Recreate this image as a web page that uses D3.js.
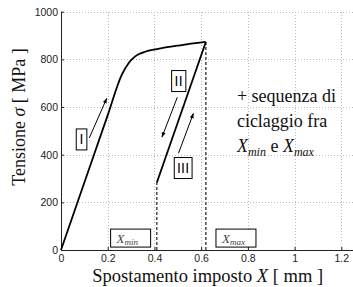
<!DOCTYPE html>
<html>
<head>
<meta charset="utf-8">
<script src="https://cdn.jsdelivr.net/npm/d3@7"></script>
<style>
  body { margin: 0; background: #fff; }
  svg { display: block; }
  .tick text { font-family: "Liberation Sans", Arial, sans-serif; font-size: 10.5px; fill: #222; }
</style>
</head>
<body>
<div id="chart"></div>
<script>
const width = 353, height = 287;
const margin = {top: 11.7, right: 0, bottom: 37, left: 61};
const serif = "'Liberation Serif', 'Times New Roman', 'DejaVu Serif', serif";

// loading curve (phase I)
const loadX = [0, 0.1, 0.2, 0.26, 0.29, 0.31, 0.33, 0.36, 0.41, 0.51, 0.62];
const loadY = [0, 283, 566, 735, 785, 806, 820, 832, 843, 859, 873];
// unloading / reloading (phases II and III)
const cycleX = [0.41, 0.62];
const cycleY = [282, 873];
// limits of the cycling
const limitNames = ["min", "max"];
const limitX = [0.41, 0.62];
const limitY = [282, 873];

const xTicks = [0, 0.2, 0.4, 0.6, 0.8, 1, 1.2];
const yTicks = [0, 200, 400, 600, 800, 1000];

let svg = d3.select("#chart").append("svg")
  .attr("width", width)
  .attr("height", height);

let x = d3.scaleLinear().domain([0, 1.25]).range([margin.left, width - margin.right]);
let y = d3.scaleLinear().domain([0, 1000]).range([height - margin.bottom, margin.top]);

// dotted grid
let grid = svg.append("g").attr("stroke", "#bbb").attr("stroke-width", 1).attr("stroke-dasharray", "1,2");
grid.selectAll(".gx").data(xTicks.slice(1)).enter().append("line")
  .attr("x1", d => Math.round(x(d)) + 0.5).attr("x2", d => Math.round(x(d)) + 0.5)
  .attr("y1", y(0)).attr("y2", y(1000));
grid.selectAll(".gy").data(yTicks.slice(1)).enter().append("line")
  .attr("y1", d => Math.round(y(d)) + 0.5).attr("y2", d => Math.round(y(d)) + 0.5)
  .attr("x1", x(0)).attr("x2", x(1.25));

// axes, MATLAB style ticks pointing inward
let xAxis = svg.append("g")
  .attr("transform", `translate(0,${y(0)})`)
  .call(d3.axisBottom(x).tickValues(xTicks).tickFormat(d3.format("~g")).tickSize(-3).tickPadding(5));
let yAxis = svg.append("g")
  .attr("transform", `translate(${x(0)},0)`)
  .call(d3.axisLeft(y).tickValues(yTicks).tickFormat(d3.format("d")).tickSize(-3).tickPadding(3));
xAxis.select(".domain").attr("d", `M${x(0)},0.5H${x(1.25)}`);
yAxis.select(".domain").attr("d", `M0.5,${y(0)}V${y(1000)}`);
svg.selectAll(".domain").attr("stroke", "#222");
svg.selectAll(".tick line").attr("stroke", "#222");

// dashed verticals at X_min and X_max
svg.selectAll(".lim").data(limitX).enter().append("line")
  .attr("x1", d => x(d)).attr("x2", d => x(d))
  .attr("y1", y(0)).attr("y2", (d, i) => y(limitY[i]))
  .attr("stroke", "#555").attr("stroke-width", 1.6).attr("stroke-dasharray", "3,2");

let line = d3.line().x(d => x(d[0])).y(d => y(d[1]));

svg.append("path")
  .datum(d3.zip(loadX, loadY))
  .attr("d", line.curve(d3.curveMonotoneX))
  .attr("fill", "none").attr("stroke", "#000").attr("stroke-width", 1.8);

svg.append("path")
  .datum(d3.zip(cycleX, cycleY))
  .attr("d", d3.line().x(d => x(d[0])).y(d => y(d[1])))
  .attr("fill", "none").attr("stroke", "#000").attr("stroke-width", 1.8);

// arrows
svg.append("defs").append("marker")
  .attr("id", "head")
  .attr("viewBox", "0 0 10 10")
  .attr("refX", 10).attr("refY", 5)
  .attr("markerWidth", 8).attr("markerHeight", 5)
  .attr("markerUnits", "userSpaceOnUse")
  .attr("orient", "auto")
  .append("path").attr("d", "M0,1L10,5L0,9Z").attr("fill", "#000");

const arrows = [
  [[0.121, 470], [0.196, 637]],
  [[0.498, 641], [0.432, 473]],
  [[0.503, 406], [0.567, 574]]
];
svg.selectAll(".arrow").data(arrows).enter().append("line")
  .attr("x1", d => x(d[0][0])).attr("y1", d => y(d[0][1]))
  .attr("x2", d => x(d[1][0])).attr("y2", d => y(d[1][1]))
  .attr("stroke", "#000").attr("stroke-width", 1)
  .attr("marker-end", "url(#head)");

// boxed phase labels
const phaseNames = ["I", "II", "III"];
const phaseX = [0.088, 0.504, 0.523];
const phaseY = [464, 709, 344];
let phase = svg.selectAll(".phase").data(phaseNames).enter().append("g")
  .attr("transform", (d, i) => `translate(${x(phaseX[i])},${y(phaseY[i])})`);
phase.append("rect")
  .attr("x", d => -(3.5 + d.length * 1.8))
  .attr("y", -10.5)
  .attr("width", d => 7 + d.length * 3.6)
  .attr("height", 21)
  .attr("fill", "#fff").attr("stroke", "#000").attr("stroke-width", 1);
phase.append("text")
  .attr("text-anchor", "middle")
  .attr("y", 5)
  .style("font-family", "'Liberation Sans', Arial, sans-serif")
  .style("font-size", "14px")
  .style("letter-spacing", "0.3px")
  .text(d => d);

// X_min / X_max boxes
const limBoxX = [0.298, 0.749];
let lim = svg.selectAll(".limbox").data(limitNames).enter().append("g")
  .attr("transform", (d, i) => `translate(${x(limBoxX[i])},${y(50)})`);
lim.append("rect")
  .attr("x", -20).attr("y", -9).attr("width", 40).attr("height", 18)
  .attr("fill", "#fff").attr("stroke", "#000").attr("stroke-width", 1);
let limText = lim.append("text")
  .attr("x", -14).attr("y", 4.5)
  .style("font-family", serif)
  .style("fill", "#444");
limText.append("tspan").style("font-style", "italic").style("font-size", "13px").text("X");
limText.append("tspan").style("font-style", "italic").style("font-size", "9px").attr("dy", 2).text(d => d);

// note text
const noteX = x(0.753);
let note = svg.append("text")
  .attr("x", noteX).attr("y", y(622))
  .style("font-family", serif)
  .style("fill", "#111")
  .style("font-size", "18px");
note.append("tspan").attr("x", noteX).text("+ sequenza di");
note.append("tspan").attr("x", noteX).attr("dy", 25).text("ciclaggio fra");
note.append("tspan").attr("x", noteX).attr("dy", 25).style("font-style", "italic").text("X");
note.append("tspan").style("font-style", "italic").style("font-size", "12px").attr("dy", 4).text("min");
note.append("tspan").attr("dy", -4).text(" e ");
note.append("tspan").style("font-style", "italic").text("X");
note.append("tspan").style("font-style", "italic").style("font-size", "12px").attr("dy", 4).text("max");

// axis titles
let xt = svg.append("text")
  .attr("x", x(0.628)).attr("y", 282)
  .attr("text-anchor", "middle")
  .style("font-family", serif)
  .style("fill", "#111")
  .style("font-size", "18.5px");
xt.append("tspan").text("Spostamento imposto ");
xt.append("tspan").style("font-style", "italic").text("X");
xt.append("tspan").text(" [ mm ]");

let yt = svg.append("text")
  .attr("transform", `translate(25,${y(558)}) rotate(-90)`)
  .attr("text-anchor", "middle")
  .style("font-family", serif)
  .style("fill", "#111")
  .style("font-size", "18px");
yt.append("tspan").text("Tensione ");
yt.append("tspan").style("font-style", "italic").text("σ");
yt.append("tspan").text(" [ MPa ]");
</script>
</body>
</html>
